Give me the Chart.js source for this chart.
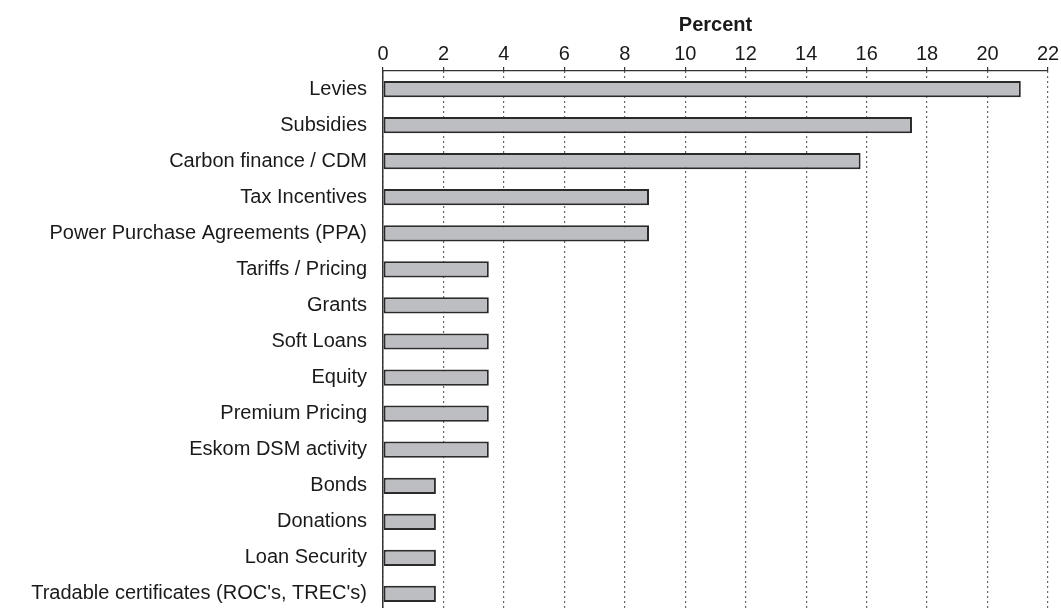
<!DOCTYPE html>
<html>
<head>
<meta charset="utf-8">
<script src="https://cdn.jsdelivr.net/npm/chart.js@4.4.0/dist/chart.umd.min.js"></script>
<style>
  html, body { margin: 0; padding: 0; background: #fff; overflow: hidden; }
  canvas { display: block; }
</style>
</head>
<body>
<canvas id="chart" width="1061" height="612"></canvas>
<script>
// Funding mechanisms, share of responses (%)
var categories = [
  'Levies',
  'Subsidies',
  'Carbon finance / CDM',
  'Tax Incentives',
  'Power Purchase Agreements (PPA)',
  'Tariffs / Pricing',
  'Grants',
  'Soft Loans',
  'Equity',
  'Premium Pricing',
  'Eskom DSM activity',
  'Bonds',
  'Donations',
  'Loan Security',
  "Tradable certificates (ROC's, TREC's)"
];
var percentValues = [21.1, 17.5, 15.8, 8.8, 8.8, 3.5, 3.5, 3.5, 3.5, 3.5, 3.5, 1.75, 1.75, 1.75, 1.75];
var axisMin = 0;
var axisMax = 22;
var axisStep = 2;

var fontFamily = '"Liberation Sans", Arial, Helvetica, sans-serif';
var ink = '#1a1a1a';

new Chart(document.getElementById('chart'), {
  type: 'bar',
  data: {
    labels: categories,
    datasets: [{
      data: percentValues,
      backgroundColor: '#bdbec2',
      borderColor: '#2a2a2a',
      borderWidth: 2,
      borderSkipped: false,
      categoryPercentage: 1,
      barPercentage: 0.45
    }]
  },
  options: {
    indexAxis: 'y',
    responsive: false,
    maintainAspectRatio: false,
    animation: false,
    layout: { padding: { left: 0, right: 13, top: 0, bottom: 0 } },
    plugins: {
      legend: { display: false },
      tooltip: { enabled: false }
    },
    scales: {
      x: {
        position: 'top',
        min: axisMin,
        max: axisMax,
        afterFit: function(scale) { scale.height = 71; },
        ticks: {
          stepSize: axisStep,
          padding: 1,
          color: ink,
          font: { family: fontFamily, size: 20 }
        },
        grid: {
          color: '#333',
          lineWidth: 1.2,
          tickLength: 4,
          tickBorderDash: [],
          tickColor: '#333'
        },
        border: { display: true, color: '#333', width: 1.3, dash: [1.5, 3.5] },
        title: {
          display: true,
          text: 'Percent',
          color: ink,
          padding: { top: 13, bottom: 0 },
          font: { family: fontFamily, size: 20, weight: 'bold' }
        }
      },
      y: {
        afterFit: function(scale) {
          scale.width = 383;
          scale.paddingBottom = 0;
          scale.paddingTop = 0;
        },
        ticks: {
          padding: 16,
          color: ink,
          font: { family: fontFamily, size: 20 }
        },
        grid: { display: false, drawTicks: false },
        border: { display: true, color: '#333', width: 1.5 }
      }
    }
  }
});
</script>
</body>
</html>
